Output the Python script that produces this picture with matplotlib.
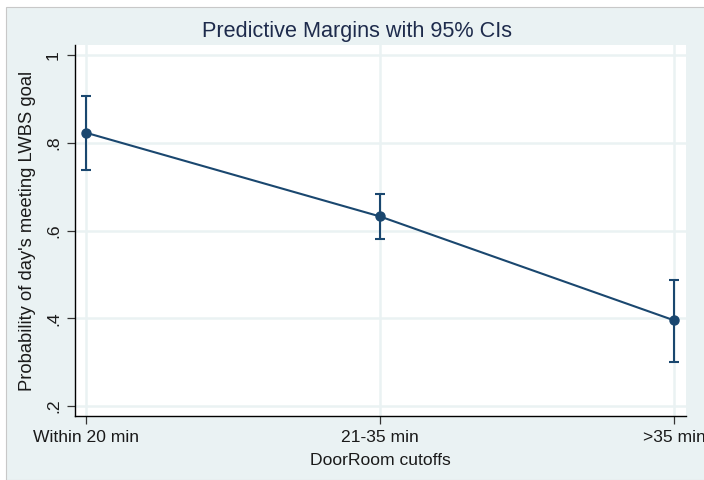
import numpy as np
import matplotlib
matplotlib.use("Agg")
import matplotlib.pyplot as plt
from matplotlib.patches import Rectangle

# data
categories = ["Within 20 min", "21-35 min", ">35 min"]
margins = [0.823, 0.632, 0.395]
ci_low = [0.739, 0.580, 0.300]
ci_high = [0.907, 0.684, 0.486]
yticks = [0.2, 0.4, 0.6, 0.8, 1.0]
ytick_labels = [".2", ".4", ".6", ".8", "1"]

navy = "#1a476f"
bg = "#eaf2f3"
txt = "#1a1a1a"

plt.rcParams['font.family'] = ['Liberation Sans', 'DejaVu Sans']

W, H = 704, 480
fig = plt.figure(figsize=(W / 100, H / 100), dpi=100, facecolor="white")
# outer graph region (Stata style)
fig.patches.append(Rectangle((6 / W, 0), 1, (H - 7) / H, transform=fig.transFigure,
                             facecolor=bg, edgecolor="#c8c8c8", linewidth=0.8, zorder=-10))

left, right, top, bottom = 75, 686, 45, 416
ax = fig.add_axes([left / W, (H - bottom) / H, (right - left) / W, (bottom - top) / H])
ax.set_facecolor("white")

x = np.arange(1, len(categories) + 1)
m = np.array(margins)
err = [m - np.array(ci_low), np.array(ci_high) - m]
ax.errorbar(x, m, yerr=err, color=navy, lw=1.5, marker="o", ms=6.5,
            capsize=3.9, capthick=1.5, elinewidth=1.5, zorder=3, clip_on=False)

ax.set_xlim(0.963, 3.04)
ax.set_ylim(0.177, 1.023)
ax.set_xticks(x)
ax.set_xticklabels(categories, fontsize=12.6, color=txt)
ax.set_yticks(yticks)
ax.set_yticklabels(ytick_labels, fontsize=12.6, color=txt, rotation=90, va="center")
ax.grid(True, color=bg, lw=1.8)
ax.set_axisbelow(True)
for s in ["top", "right"]:
    ax.spines[s].set_visible(False)
for s in ["left", "bottom"]:
    ax.spines[s].set_color("black")
    ax.spines[s].set_linewidth(1.0)
ax.tick_params(axis="both", direction="out", length=6, width=0.9, color="#333333", pad=4)

ax.set_ylabel("Probability of day's meeting LWBS goal", fontsize=13.2, color=txt, labelpad=7)
ax.set_xlabel("DoorRoom cutoffs", fontsize=12.6, color=txt, labelpad=6)
fig.text(357 / W, 1 - 31 / H, "Predictive Margins with 95% CIs", ha="center", va="center",
         fontsize=15.6, color="#1e2b4c")

fig.savefig("out.png", dpi=100, facecolor="white")
